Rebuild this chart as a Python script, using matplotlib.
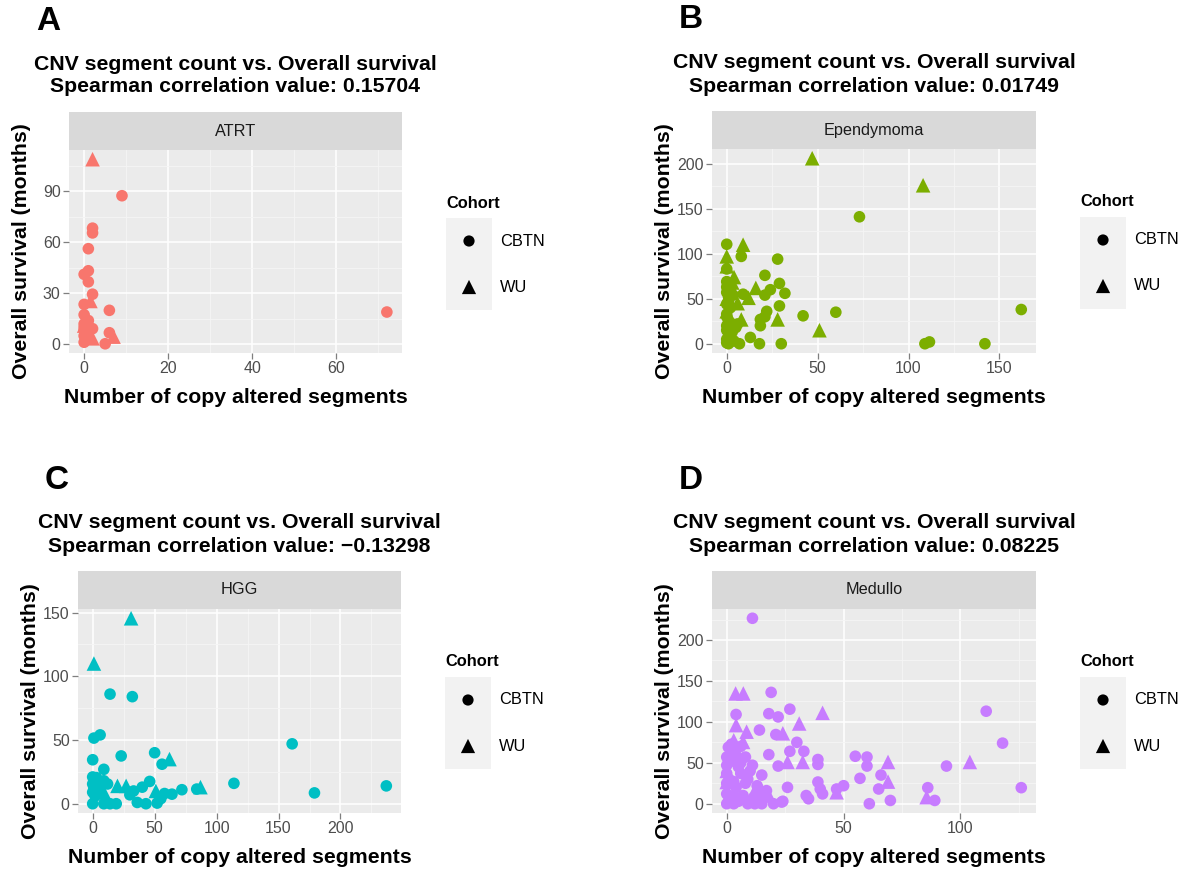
import matplotlib
matplotlib.use("Agg")
import matplotlib.pyplot as plt
import numpy as np

plt.rcParams['font.family'] = ['Liberation Sans', 'DejaVu Sans']

# ---- data ----
atrt_cbtn_x = [9, 2, 2, 1, 1, 0, 1, 2, 0, 6, 72, 0, 1, 0, 1, 0, 2, 0, 1, 6, 0, 5, 1, 0]
atrt_cbtn_y = [87.5, 68.4, 65.6, 56.3, 43.3, 41.2, 36.8, 29.5, 23.5, 20, 19, 17.4, 14, 12,
               11, 10, 9.2, 8.2, 6.6, 6.8, 1.2, 0.3, 4, 5]
atrt_wu_x = [2, 1.5, 0, 7, 2]
atrt_wu_y = [109, 25.5, 11, 4.5, 3.5]

epen_cbtn_x = [0, 8, 28, 0, 21, 29, 0, 0, 2, 24, 32, 21, 9, 3.5, 1, 29, 162, 60, 22, 42,
               21, 18.5, 18.5, 13, 0, 0, 7, 18, 30, 109, 111.5, 142, 73,
               0, 1, 0, 2, 0, 1, 3, 0, 5, 1, 2, 0, 4, 1, 3, 6, 0]
epen_cbtn_y = [110.5, 97, 94, 83, 76, 67, 69, 63, 60, 60, 56, 54, 55, 54, 47, 42, 38, 35, 36, 31,
               30, 27, 20, 7, 15, 1, 0, 0, 0, 0, 2, 0, 141,
               57, 52, 44, 40, 30, 25, 22, 20, 18, 12, 8, 5, 3, 0, 13, 22, 33]
epen_wu_x = [47, 108, 9, 0, 0, 4, 16, 12, 0, 0, 28, 8, 51, 3, 6, 2]
epen_wu_y = [206, 176, 110, 97, 86, 74, 62, 51, 50, 36, 27, 27, 15, 68, 45, 20]

hgg_cbtn_x = [14, 32, 6, 1, 161, 0, 23, 50, 56, 9, 114, 237, 179, 84, 72, 64, 46, 40, 33, 58,
              36, 43, 52, 0, 9, 14, 19, 0, 3, 0, 6, 12, 5, 0, 1, 9, 2, 55, 30]
hgg_cbtn_y = [86, 84, 54, 51.5, 47, 34.5, 37.5, 40, 31, 27, 16, 14, 8.5, 11.5, 11, 7.5, 17.5,
              13, 10, 8, 1, 0, 0.5, 0, 0, 0, 0, 21, 20.5, 15.5, 17, 15.5, 11.5, 9, 12, 18, 6, 4, 7]
hgg_wu_x = [31, 1, 62, 20, 27, 87, 51, 9, 3]
hgg_wu_y = [145.5, 110, 35, 14, 14, 13, 10, 9, 13]

medu_cbtn_x = [11, 19, 4, 18, 22, 27, 111, 14, 21, 118, 30, 2, 27, 33, 18, 55, 60, 39, 60, 39,
               22, 94, 66, 57, 26, 39, 40, 65, 86, 126, 50, 47, 41, 34, 35, 89, 70, 61, 24,
               0.7, 3.5, 0, 8, 0, 5, 11, 0, 6, 15, 0, 3, 8, 17, 0, 3, 7, 0, 3, 9, 15, 20, 23.5,
               2, 6, 10, 1, 4, 12, 1, 5, 9, 13, 16, 2, 6, 12]
medu_cbtn_y = [226.5, 136, 109, 110, 106, 115.5, 113, 90, 84.5, 74, 75, 72.7, 64, 64, 60, 58, 57,
               54, 46, 48, 46, 46, 35, 31, 20, 26.5, 18, 18, 19.6, 19.6, 22, 18, 12, 10, 6, 4, 4,
               0, 3, 69, 65, 57, 57, 47, 45, 47, 37, 37, 35, 25, 27, 25, 16, 12, 10, 10, 0, 0, 0,
               0, 0, 2, 52, 50, 40, 30, 20, 8, 5, 3, 30, 22, 8, 62, 70, 0]
medu_wu_x = [3.8, 7.1, 41, 31, 4, 8.5, 24, 7, 26, 32.5, 69, 104, 69, 47, 85.5, 3, 0, 12, 15, 0,
             5, 10, 18]
medu_wu_y = [134.7, 134.7, 111, 98, 96, 88, 86, 75.5, 51, 51, 51, 51, 27, 14, 8, 77.5, 26.5, 16,
             16, 40, 60, 5, 10]

panels = [
    dict(letter="A", name="ATRT", rho="0.15704", color="#F8766D",
         cx=atrt_cbtn_x, cy=atrt_cbtn_y, wx=atrt_wu_x, wy=atrt_wu_y,
         xt=[0, 20, 40, 60], yt=[0, 30, 60, 90],
         box=(69, 150, 402, 353), strip_top=112),
    dict(letter="B", name="Ependymoma", rho="0.01749", color="#7CAE00",
         cx=epen_cbtn_x, cy=epen_cbtn_y, wx=epen_wu_x, wy=epen_wu_y,
         xt=[0, 50, 100, 150], yt=[0, 50, 100, 150, 200],
         box=(712, 149, 1036, 353), strip_top=111),
    dict(letter="C", name="HGG", rho="\u22120.13298", color="#00BFC4",
         cx=hgg_cbtn_x, cy=hgg_cbtn_y, wx=hgg_wu_x, wy=hgg_wu_y,
         xt=[0, 50, 100, 150, 200], yt=[0, 50, 100, 150],
         box=(78, 609, 401, 813), strip_top=571),
    dict(letter="D", name="Medullo", rho="0.08225", color="#C77CFF",
         cx=medu_cbtn_x, cy=medu_cbtn_y, wx=medu_wu_x, wy=medu_wu_y,
         xt=[0, 50, 100], yt=[0, 50, 100, 150, 200],
         box=(712, 609, 1036, 813), strip_top=571),
]

W, H = 1183, 872
fig = plt.figure(figsize=(W / 100, H / 100), dpi=100)


def frac(x0, y0, x1, y1):
    # pixel box (top-left origin) -> figure fraction [l, b, w, h]
    return [x0 / W, 1 - y1 / H, (x1 - x0) / W, (y1 - y0) / H]


def limits(vals):
    # ggplot-style 5% expansion
    lo, hi = min(vals), max(vals)
    pad = 0.05 * (hi - lo)
    return lo - pad, hi + pad


for p in panels:
    x0, y0, x1, y1 = p["box"]
    ax = fig.add_axes(frac(x0, y0, x1, y1))
    ax.set_facecolor("#EBEBEB")
    for s in ax.spines.values():
        s.set_visible(False)

    xl = limits(p["cx"] + p["wx"])
    yl = limits(p["cy"] + p["wy"])

    # grid: minor lines halfway between the majors
    xs = p["xt"][1] - p["xt"][0]
    ys = p["yt"][1] - p["yt"][0]
    ax.set_xticks(p["xt"])
    ax.set_yticks(p["yt"])
    ax.set_xticks(np.arange(p["xt"][0] + xs / 2, xl[1], xs), minor=True)
    ax.set_yticks(np.arange(p["yt"][0] + ys / 2, yl[1], ys), minor=True)
    ax.set_xlim(*xl)
    ax.set_ylim(*yl)
    ax.grid(which="major", color="white", lw=1.1)
    ax.grid(which="minor", color="#F5F5F5", lw=0.6)
    ax.set_axisbelow(True)
    ax.tick_params(which="major", length=4, width=0.9, color="#7F7F7F",
                   labelcolor="#4D4D4D", labelsize=11.5, pad=2)
    ax.tick_params(which="minor", length=0)

    ax.scatter(p["cx"], p["cy"], s=70, marker="o", color=p["color"],
               edgecolors="none", zorder=3)
    ax.scatter(p["wx"], p["wy"], s=110, marker="^", color=p["color"],
               edgecolors="none", zorder=3)
    ax.set_xlim(*xl)
    ax.set_ylim(*yl)

    # facet strip
    sax = fig.add_axes(frac(x0, p["strip_top"], x1, y0))
    sax.set_facecolor("#D9D9D9")
    sax.set_xticks([])
    sax.set_yticks([])
    for s in sax.spines.values():
        s.set_visible(False)
    sax.text(0.5, 0.5, p["name"], ha="center", va="center", fontsize=11.7,
             color="#1A1A1A", transform=sax.transAxes)

    cx = (x0 + x1) / 2
    top = p["strip_top"]
    fig.text(cx / W, 1 - (top - 48) / H, "CNV segment count vs. Overall survival",
             ha="center", va="center", fontsize=15.3, fontweight="bold")
    fig.text(cx / W, 1 - (top - 25) / H, "Spearman correlation value: " + p["rho"],
             ha="center", va="center", fontsize=15.3, fontweight="bold")
    fig.text(cx / W, 1 - (y1 + 44) / H, "Number of copy altered segments",
             ha="center", va="center", fontsize=15.3, fontweight="bold")
    fig.text((x0 - 47) / W, 1 - ((y0 + y1) / 2) / H, "Overall survival (months)",
             ha="center", va="center", rotation=90, fontsize=15.3, fontweight="bold")
    fig.text((x0 - 33) / W, 1 - (top - 91) / H, p["letter"], ha="left", va="center",
             fontsize=24, fontweight="bold")

    # legend
    lx = x1 + 44
    ly = top + 91
    fig.text(lx / W, 1 - ly / H, "Cohort", ha="left", va="center",
             fontsize=11.8, fontweight="bold")
    lax = fig.add_axes(frac(lx, ly + 15, lx + 46, ly + 107))
    lax.set_facecolor("#F2F2F2")
    lax.set_xlim(0, 46)
    lax.set_ylim(92, 0)
    lax.set_xticks([])
    lax.set_yticks([])
    for s in lax.spines.values():
        s.set_visible(False)
    lax.scatter([23], [23], s=65, marker="o", color="black", edgecolors="none")
    lax.scatter([23], [69], s=105, marker="^", color="black", edgecolors="none")
    fig.text((lx + 54) / W, 1 - (ly + 38) / H, "CBTN", ha="left", va="center", fontsize=11.8)
    fig.text((lx + 54) / W, 1 - (ly + 84) / H, "WU", ha="left", va="center", fontsize=11.8)

fig.savefig("out.png", dpi=100)
